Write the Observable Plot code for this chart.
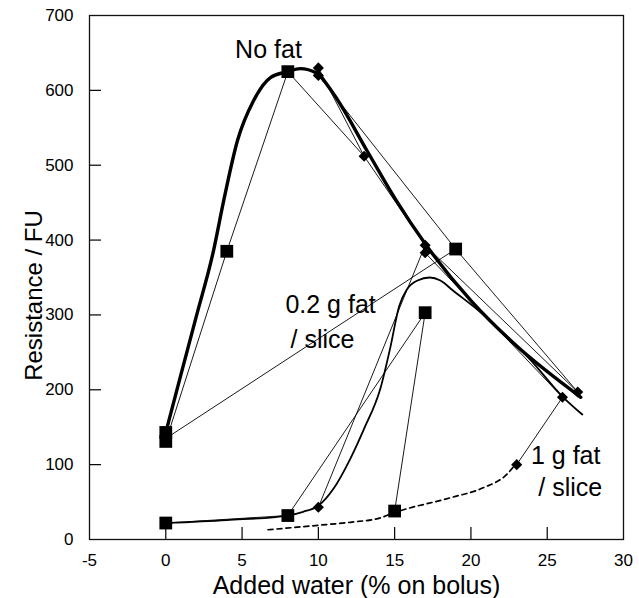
<!DOCTYPE html>
<html><head><meta charset="utf-8">
<script src="https://cdn.jsdelivr.net/npm/d3@7"></script>
<script src="https://cdn.jsdelivr.net/npm/@observablehq/plot@0.6"></script>
<style>body{margin:0;background:#fff} svg{display:block}</style>
</head><body><div id="chart"></div>
<script>
// Axis ticks
const xTicks = [-5, 0, 5, 10, 15, 20, 25, 30];
const yTicks = [0, 100, 200, 300, 400, 500, 600, 700];
const xInnerTicks = [0, 5, 10, 15, 20, 25];
const yInnerTicks = [100, 200, 300, 400, 500, 600];

// Measured points (square markers)
const squareX = [0, 0, 4, 8, 19, 0, 8, 15, 17];
const squareY = [143, 131, 385, 625, 388, 22, 32, 38, 303];
// Measured points (diamond markers)
const diamondX = [10, 10, 13, 17, 17, 27, 10, 23, 26];
const diamondY = [630, 620, 512, 393, 383, 197, 43, 100, 190];

// Thin lines joining replicate runs
const run1X = [0, 4, 8, 13, 17, 27];
const run1Y = [131, 385, 625, 512, 393, 197];
const run2X = [0, 19, 27];
const run2Y = [135, 388, 197];
const run3X = [10, 13];
const run3Y = [630, 512];
const run4X = [10, 19];
const run4Y = [620, 388];
const run5X = [0, 8, 17];
const run5Y = [22, 32, 303];
const run6X = [15, 17];
const run6Y = [38, 303];
const run7X = [10, 17];
const run7Y = [43, 393];
const run8X = [17, 26];
const run8Y = [383, 190];
const run9X = [23, 26];
const run9Y = [100, 190];

// Fitted curves
const noFatX = [0, 1, 2, 3.13, 3.8, 4.7, 5.75, 6.86, 8, 8.8, 9.9, 11, 13.2, 15.1, 17, 20, 22.8, 27.2];
const noFatY = [143, 221, 298, 386, 453, 533, 586, 617, 625, 629, 623, 595, 519, 453, 395, 319, 262, 190];
const fat02X = [0, 4, 8, 9, 10, 11, 12.1, 13, 14.07, 14.7, 15.3, 15.8, 16.5, 17.3, 18, 18.8, 20.6, 23.9, 26, 27.3];
const fat02Y = [22, 26, 32, 37, 45, 68, 108, 148, 202, 255, 312, 334, 346, 350, 346, 333, 304, 240, 191, 167];
const fat1X = [6.7, 10, 12.1, 14.07, 15, 18.7, 20.8, 22.4, 22.9];
const fat1Y = [13, 19, 23, 29, 36, 56, 69, 88, 100];

// Curve labels
const midLabelText = ["No fat", "0.2 g fat", "/ slice"];
const midLabelX = [6.73, 10.8, 10.27];
const midLabelY = [643, 302, 256];
const endLabelText = ["1 g fat", "/ slice"];
const endLabelX = [28.49, 28.6];
const endLabelY = [101, 58];

const pts = (xs, ys) => xs.map((x, i) => ({x, y: ys[i]}));
const lbl = (ts, xs, ys) => ts.map((t, i) => ({t, x: xs[i], y: ys[i]}));
const runs = [[run1X, run1Y], [run2X, run2Y], [run3X, run3Y], [run4X, run4Y], [run5X, run5Y],
  [run6X, run6Y], [run7X, run7Y], [run8X, run8Y], [run9X, run9Y]];

const W = 639, H = 598, ML = 89, MR = 16, MT = 15, MB = 59;
const xDomain = [-5, 30], yDomain = [0, 700];
const tickPx = 12;
// inward tick length expressed in data units of each scale
const tickLenY = tickPx * (yDomain[1] - yDomain[0]) / (H - MT - MB);
const tickLenX = tickPx * (xDomain[1] - xDomain[0]) / (W - ML - MR);

const font = "Arial, 'Liberation Sans', Helvetica, sans-serif";
const fmt = (d) => String(d);

const chart = Plot.plot({
  width: W,
  height: H,
  marginLeft: ML,
  marginRight: MR,
  marginTop: MT,
  marginBottom: MB,
  style: {fontFamily: font, fontSize: "17px", color: "black", background: "white"},
  x: {domain: xDomain},
  y: {domain: yDomain},
  marks: [
    ...runs.map(([xs, ys]) => Plot.line(pts(xs, ys), {x: "x", y: "y", stroke: "black", strokeWidth: 0.9})),
    Plot.line(pts(fat1X, fat1Y), {x: "x", y: "y", curve: "monotone-x", stroke: "black", strokeWidth: 1.7, strokeDasharray: "5,4"}),
    Plot.line(pts(fat02X, fat02Y), {x: "x", y: "y", curve: "monotone-x", stroke: "black", strokeWidth: 1.8}),
    Plot.line(pts(noFatX, noFatY), {x: "x", y: "y", curve: "monotone-x", stroke: "black", strokeWidth: 3.4}),
    // inward tick marks
    Plot.ruleX(xInnerTicks, {x: (d) => d, y1: yDomain[0], y2: yDomain[0] + tickLenY, stroke: "black", strokeWidth: 1.2}),
    Plot.ruleY(yInnerTicks, {y: (d) => d, x1: xDomain[0], x2: xDomain[0] + tickLenX, stroke: "black", strokeWidth: 1.2}),
    Plot.dot(pts(squareX, squareY), {x: "x", y: "y", symbol: "square", r: 7.2, fill: "black", stroke: "none"}),
    Plot.dot(pts(diamondX, diamondY), {x: "x", y: "y", symbol: "diamond2", r: 5, fill: "black", stroke: "none"}),
    Plot.axisX({ticks: xTicks, tickSize: 0, tickPadding: 14, tickFormat: fmt, label: null, fontSize: 17, fill: "black"}),
    Plot.axisY({ticks: yTicks, tickSize: 0, tickPadding: 16, tickFormat: fmt, label: null, fontSize: 17, fill: "black"}),
    Plot.frame({stroke: "#111", strokeWidth: 1.3}),
    Plot.text(["Added water (% on bolus)"], {frameAnchor: "bottom", dy: 54, textAnchor: "middle", lineAnchor: "bottom", fontSize: 25, fill: "black"}),
    Plot.text(["Resistance / FU"], {frameAnchor: "left", dx: -48, dy: 18, rotate: -90, textAnchor: "middle", lineAnchor: "bottom", fontSize: 24, fill: "black"}),
    Plot.text(lbl(midLabelText, midLabelX, midLabelY), {x: "x", y: "y", text: "t", textAnchor: "middle", lineAnchor: "bottom", fontSize: 25, fill: "black"}),
    Plot.text(lbl(endLabelText, endLabelX, endLabelY), {x: "x", y: "y", text: "t", textAnchor: "end", lineAnchor: "bottom", fontSize: 25, fill: "black"})
  ]
});
document.getElementById("chart").append(chart);
</script>
</body></html>
